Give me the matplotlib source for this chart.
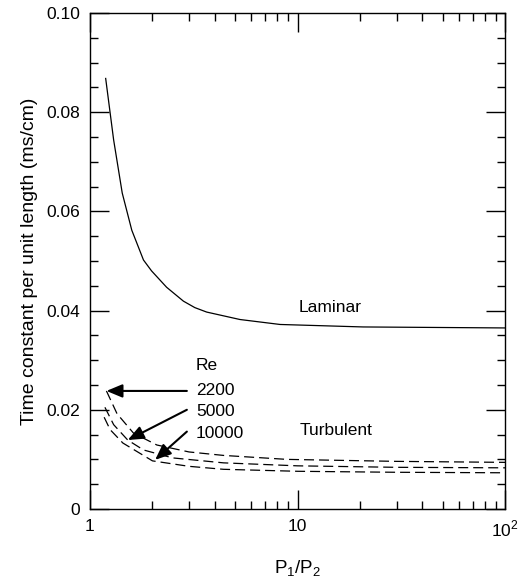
import matplotlib.pyplot as plt
import numpy as np
from matplotlib.ticker import FixedLocator, FixedFormatter, MultipleLocator

plt.rcParams['font.family'] = ['Liberation Sans', 'DejaVu Sans']
plt.rcParams['mathtext.fontset'] = 'custom'
plt.rcParams['mathtext.rm'] = 'Liberation Sans'

# laminar curve
lam_x = [1.19, 1.30, 1.43, 1.59, 1.81, 1.98, 2.34, 2.82, 3.2, 3.65, 5.28, 8.24, 20.7, 100]
lam_y = [0.0868, 0.0744, 0.0637, 0.0562, 0.0502, 0.0480, 0.0447, 0.0419, 0.0406, 0.0397,
         0.0382, 0.0372, 0.0367, 0.0365]

# turbulent curves, Re = 2200, 5000, 10000
re_labels = ['2200', '5000', '10000']
t2200_x = [1.20, 1.35, 1.62, 2.10, 3.0, 4.4, 8.9, 30, 100]
t2200_y = [0.0238, 0.0192, 0.0153, 0.0129, 0.0115, 0.0108, 0.0100, 0.0096, 0.0094]
t5000_x = [1.18, 1.30, 1.52, 1.81, 2.5, 4.4, 10, 30, 100]
t5000_y = [0.0205, 0.0170, 0.0139, 0.0119, 0.0103, 0.0093, 0.0087, 0.0084, 0.0083]
t10000_x = [1.17, 1.25, 1.44, 2.0, 3.0, 4.4, 10, 30, 100]
t10000_y = [0.0185, 0.0160, 0.0133, 0.0097, 0.0086, 0.0080, 0.0076, 0.0074, 0.0073]

# arrow tips for the Re labels
tip_x = [1.20, 1.52, 2.06]
tip_y = [0.0238, 0.0139, 0.0099]

fig = plt.figure(figsize=(5.26, 5.87), dpi=100)
ax = fig.add_axes([0.1711, 0.1329, 0.789, 0.845])

ax.plot(lam_x, lam_y, color='black', lw=0.9)
for xs, ys in [(t2200_x, t2200_y), (t5000_x, t5000_y), (t10000_x, t10000_y)]:
    ax.plot(xs, ys, color='black', lw=0.9, dashes=(8, 4))

ax.set_xscale('log')
ax.set_xlim(1, 100)
ax.set_ylim(0, 0.10)

ax.xaxis.set_major_locator(FixedLocator([1, 10, 100]))
ax.xaxis.set_major_formatter(FixedFormatter(['1', '10', '10$^2$']))
ax.xaxis.set_minor_locator(FixedLocator([2, 3, 4, 5, 6, 7, 8, 9, 20, 30, 40, 50, 60, 70, 80, 90]))
ax.xaxis.set_minor_formatter(FixedFormatter([]))
ax.yaxis.set_major_locator(MultipleLocator(0.02))
ax.yaxis.set_minor_locator(MultipleLocator(0.005))
ax.set_yticks([0, 0.02, 0.04, 0.06, 0.08, 0.10])
ax.set_yticklabels(['0', '0.02', '0.04', '0.06', '0.08', '0.10'])

ax.tick_params(which='both', direction='in', top=True, right=True, labelsize=12.5, width=1)
ax.tick_params(which='major', length=14, pad=7)
ax.tick_params(which='minor', length=6)
for s in ax.spines.values():
    s.set_linewidth(1)

ax.set_xlabel('P$_1$/P$_2$', fontsize=13.5, labelpad=14)
ax.set_ylabel('Time constant per unit length (ms/cm)', fontsize=14, labelpad=6)

ax.text(14.3, 0.0407, 'Laminar', fontsize=12.5, ha='center', va='center')
ax.text(15.4, 0.0159, 'Turbulent', fontsize=12.5, ha='center', va='center')
ax.text(3.24, 0.0290, 'Re', fontsize=12.5, ha='left', va='center')

lab_y = [0.0238, 0.0196, 0.0153]
tail_y = [0.0238, 0.0200, 0.0156]
for lab, ly, ty, tx, tyy in zip(re_labels, lab_y, tail_y, tip_x, tip_y):
    ax.text(3.24, ly, lab, fontsize=12.5, ha='left', va='center')
    ax.annotate('', xy=(tx, tyy), xytext=(2.93, ty),
                arrowprops=dict(arrowstyle='-|>,head_length=0.6,head_width=0.25',
                                color='black', lw=1.5,
                                mutation_scale=16, shrinkA=0, shrinkB=0))

fig.savefig('out.png', dpi=100)
